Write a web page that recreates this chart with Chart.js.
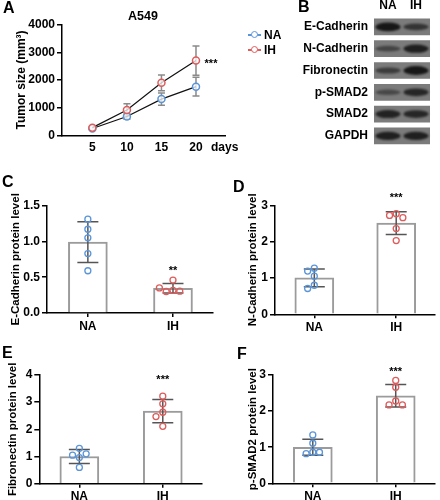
<!DOCTYPE html>
<html>
<head>
<meta charset="utf-8">
<script src="https://cdn.jsdelivr.net/npm/chart.js@4.4.1/dist/chart.umd.min.js"></script>
<style>
  body { margin: 0; width: 440px; height: 500px; position: relative; background: #fff; overflow: hidden;
         font-family: 'Liberation Sans', Arial, Helvetica, sans-serif; }
  .box { position: absolute; }
  .lbl { position: absolute; font-weight: bold; color: #000; line-height: 1; white-space: nowrap; }
  .letter { font-size: 16px; }
  .leg { position: absolute; height: 12px; font-size: 12px; font-weight: bold; line-height: 12px; }
  .leg i { position: absolute; left: 0; top: 5px; width: 13px; height: 1.5px; }
  .leg b { position: absolute; left: 3px; top: 2px; width: 5px; height: 5px; border-radius: 50%; border: 1.3px solid; background: #fff; }
  .leg span { position: absolute; left: 16px; top: 0; }
</style>
</head>
<body>
<div class="box" style="left:0;top:0;width:300px;height:165px"><canvas id="chartA"></canvas></div>
<div class="box" style="left:300px;top:0;width:140px;height:160px"><canvas id="chartB"></canvas></div>
<div class="box" style="left:0;top:170px;width:220px;height:165px"><canvas id="chartC"></canvas></div>
<div class="box" style="left:220px;top:170px;width:220px;height:165px"><canvas id="chartD"></canvas></div>
<div class="box" style="left:0;top:335px;width:220px;height:165px"><canvas id="chartE"></canvas></div>
<div class="box" style="left:220px;top:335px;width:220px;height:165px"><canvas id="chartF"></canvas></div>

<div class="lbl letter" style="left:3px;top:0px">A</div>
<div class="lbl letter" style="left:298px;top:-1px">B</div>
<div class="lbl letter" style="left:2px;top:174px">C</div>
<div class="lbl letter" style="left:233px;top:179px">D</div>
<div class="lbl letter" style="left:2px;top:345px">E</div>
<div class="lbl letter" style="left:237px;top:346px">F</div>
<div class="lbl" style="left:128px;top:10px;font-size:12.5px">A549</div>
<div class="lbl" style="left:211px;top:141px;font-size:12px">days</div>
<div class="leg" style="left:248px;top:29px"><i style="background:#5b95d9"></i><b style="border-color:#5b95d9"></b><span>NA</span></div>
<div class="leg" style="left:248px;top:44px"><i style="background:#dd5c5c"></i><b style="border-color:#dd5c5c"></b><span>IH</span></div>

<script>
// ---- data ----
const days = [5, 10, 15, 20];
const tumorNA = [250, 680, 1310, 1760];
const tumorNAsd = [45, 100, 220, 340];
const tumorIH = [280, 920, 1900, 2700];
const tumorIHsd = [45, 220, 285, 530];

const groups = ['NA', 'IH'];
const ecadNA = [1.31, 1.17, 1.05, 0.83, 0.59];
const ecadIH = [0.46, 0.315, 0.30, 0.305, 0.35];
const ncadNA = [1.27, 1.19, 1.05, 0.80, 0.71];
const ncadIH = [2.77, 2.72, 2.66, 2.36, 2.03];
const fibNA = [1.30, 1.05, 1.10, 0.96, 0.60];
const fibIH = [3.22, 2.94, 2.63, 2.47, 2.11];
const psmadNA = [1.34, 1.11, 0.86, 0.82, 0.86];
const psmadIH = [2.85, 2.66, 2.28, 2.17, 2.17];
const sigText = ['**', '***', '***', '***'];

const proteins = ['E-Cadherin', 'N-Cadherin', 'Fibronectin', 'p-SMAD2', 'SMAD2', 'GAPDH'];
const bandNA = [1.0, 0.4, 0.5, 0.35, 0.85, 0.9];
const bandIH = [0.6, 0.9, 1.0, 0.8, 0.8, 0.9];

// ---- styling ----
const BLUE = '#5b95d9', RED = '#dd5c5c';
Chart.defaults.font.family = "'Liberation Sans', Arial, Helvetica, sans-serif";
Chart.defaults.font.weight = 'bold';
Chart.defaults.font.size = 12;
Chart.defaults.color = '#000';
Chart.defaults.animation = false;
Chart.defaults.plugins.legend.display = false;
Chart.defaults.plugins.tooltip.enabled = false;

const mean = a => a.reduce((s, v) => s + v, 0) / a.length;
const sd = a => { const m = mean(a); return Math.sqrt(a.reduce((s, v) => s + (v - m) ** 2, 0) / (a.length - 1)); };

// spread points that would overlap (simple beeswarm, in pixels)
function swarm(vals, pxY, pxX, r) {
  const placed = [];
  return vals.map(v => {
    const y = v * pxY;
    for (let k = 0; k < 20; k++) {
      const dx = k === 0 ? 0 : Math.ceil(k / 2) * (k % 2 ? -1 : 1) * 2 * r;
      if (placed.every(p => Math.hypot(p.x - dx, p.y - y) >= 2 * r)) {
        placed.push({ x: dx, y });
        return dx / pxX;
      }
    }
    return 0;
  });
}

function stars(ctx, text, x, y) {
  ctx.save();
  ctx.fillStyle = '#000';
  ctx.font = "bold 11px 'Liberation Sans', Arial, sans-serif";
  ctx.textAlign = 'center';
  ctx.textBaseline = 'middle';
  ctx.fillText(text, x, y + 3);
  ctx.restore();
}

// ---- A: tumor growth ----
const errA = {
  id: 'errA',
  beforeDatasetsDraw(chart) {
    const { ctx, scales: { x, y } } = chart;
    ctx.save();
    ctx.strokeStyle = '#8a8a8a';
    ctx.lineWidth = 1.5;
    [[tumorNA, tumorNAsd], [tumorIH, tumorIHsd]].forEach(([m, s]) => {
      days.forEach((d, i) => {
        const px = x.getPixelForValue(d);
        const t = y.getPixelForValue(m[i] + s[i]), b = y.getPixelForValue(m[i] - s[i]);
        ctx.beginPath();
        ctx.moveTo(px, t); ctx.lineTo(px, b);
        ctx.moveTo(px - 3.5, t); ctx.lineTo(px + 3.5, t);
        ctx.moveTo(px - 3.5, b); ctx.lineTo(px + 3.5, b);
        ctx.stroke();
      });
    });
    ctx.restore();
  },
  afterDatasetsDraw(chart) {
    const { ctx, scales: { x, y } } = chart;
    stars(ctx, '***', x.getPixelForValue(days[3]) + 15, y.getPixelForValue(tumorIH[3]));
  }
};

const lineSet = (label, vals, color) => ({
  label,
  data: days.map((d, i) => ({ x: d, y: vals[i] })),
  borderColor: '#111',
  borderWidth: 1.2,
  pointRadius: 3.5,
  pointBorderWidth: 1.5,
  pointBorderColor: color,
  pointBackgroundColor: 'rgba(255,255,255,0.75)'
});

new Chart(document.getElementById('chartA'), {
  type: 'line',
  data: { datasets: [lineSet('IH', tumorIH, RED), lineSet('NA', tumorNA, BLUE)] },
  options: {
    responsive: true,
    maintainAspectRatio: false,
    layout: { padding: { top: 24.6, right: 75, bottom: 0, left: 0 } },
    scales: {
      x: {
        type: 'linear', min: 0.6, max: 24.2,
        afterBuildTicks: s => { s.ticks = days.map(v => ({ value: v })); },
        afterFit: s => { s.height = 29.6; },
        grid: { display: false, drawTicks: false },
        border: { color: '#000', width: 1.5 },
        ticks: { padding: 5, callback: v => String(v) }
      },
      y: {
        min: 0, max: 4000,
        ticks: { stepSize: 1000, padding: 2, callback: v => String(v) },
        afterFit: s => { s.width = 62; },
        grid: { drawOnChartArea: false, color: '#000', lineWidth: 1.5, tickLength: 5 },
        border: { color: '#000', width: 1.5 },
        title: { display: true, text: 'Tumor size (mm³)', font: { size: 12, weight: 'bold' }, padding: { top: 14, bottom: 0 } }
      }
    }
  },
  plugins: [errA]
});

// ---- B: western blot ----
const bands = {
  id: 'bands',
  afterDatasetsDraw(chart) {
    const { ctx, scales: { x, y } } = chart;
    ctx.save();
    proteins.forEach((p, i) => {
      [bandNA[i], bandIH[i]].forEach((v, j) => {
        const cx = x.getPixelForValue(j), cy = y.getPixelForValue(i);
        ctx.filter = 'blur(1.3px)';
        ctx.fillStyle = `rgba(18,18,18,${0.25 + 0.7 * v})`;
        ctx.beginPath();
        ctx.ellipse(cx, cy, 12.5, 1.8 + 2.6 * v, 0, 0, Math.PI * 2);
        ctx.fill();
      });
    });
    ctx.restore();
  }
};

new Chart(document.getElementById('chartB'), {
  type: 'bar',
  data: {
    labels: proteins,
    datasets: [{ data: proteins.map(() => [-0.5, 1.5]), backgroundColor: '#7b7b7b', borderWidth: 0, barThickness: 16 }]
  },
  options: {
    indexAxis: 'y',
    responsive: true,
    maintainAspectRatio: false,
    layout: { padding: { top: 0, right: 10, bottom: 10.4, left: 0 } },
    scales: {
      x: {
        type: 'linear', position: 'top', min: -0.5, max: 1.5, offset: false,
        afterBuildTicks: s => { s.ticks = groups.map((g, i) => ({ value: i })); },
        afterFit: s => { s.height = 16; },
        ticks: { callback: v => groups[v], padding: 3 },
        grid: { display: false, drawTicks: false },
        border: { display: false }
      },
      y: {
        afterFit: s => { s.width = 74; },
        ticks: { padding: 6 },
        grid: { display: false, drawTicks: false },
        border: { display: false }
      }
    }
  },
  plugins: [bands]
});

// ---- C-F: protein levels ----
const panels = [
  { id: 'chartC', na: ecadNA, ih: ecadIH, yMax: 1.5, step: 0.5, dec: 1, title: 'E-Cadherin protein level',
    sig: sigText[0], sigY: 0.63, box: [0, 170], area: [47, 205.6, 213, 313], titlePad: 8.6 },
  { id: 'chartD', na: ncadNA, ih: ncadIH, yMax: 3, step: 1, dec: 0, title: 'N-Cadherin protein level',
    sig: sigText[1], sigY: 3.29, box: [220, 170], area: [275, 205.3, 438, 314.3], titlePad: 26 },
  { id: 'chartE', na: fibNA, ih: fibIH, yMax: 4, step: 1, dec: 0, title: 'Fibronectin protein level',
    sig: sigText[2], sigY: 3.93, box: [0, 335], area: [39.3, 375, 202, 483.7], titlePad: 6 },
  { id: 'chartF', na: psmadNA, ih: psmadIH, yMax: 3, step: 1, dec: 0, title: 'p-SMAD2 protein level',
    sig: sigText[3], sigY: 3.18, box: [220, 335], area: [273, 375, 438, 483.3], titlePad: 26 }
];

const X_MIN = -0.48, X_MAX = 1.47;

panels.forEach(p => {
  const [cl, ct] = p.box;
  const [left, top, right, bottom] = p.area;
  const pxX = (right - left) / (X_MAX - X_MIN);
  const pxY = (bottom - top) / p.yMax;
  const sets = [p.na, p.ih];
  const pts = sets.map((vals, g) => {
    const off = swarm(vals, pxY, pxX, 3.4);
    return vals.map((v, k) => ({ x: g + off[k], y: v }));
  });

  const errBars = {
    id: 'err' + p.id,
    afterDatasetDraw(chart, args) {
      if (args.index !== 2) return;
      const { ctx, scales: { x, y } } = chart;
      ctx.save();
      ctx.strokeStyle = '#555';
      ctx.lineWidth = 1.5;
      sets.forEach((vals, g) => {
        const m = mean(vals), s = sd(vals);
        const px = x.getPixelForValue(g);
        const t = y.getPixelForValue(m + s), b = y.getPixelForValue(m - s);
        ctx.beginPath();
        ctx.moveTo(px, t); ctx.lineTo(px, b);
        ctx.moveTo(px - 10.5, t); ctx.lineTo(px + 10.5, t);
        ctx.moveTo(px - 10.5, b); ctx.lineTo(px + 10.5, b);
        ctx.stroke();
      });
      ctx.restore();
    },
    afterDraw(chart) {
      const { ctx, scales: { x, y } } = chart;
      stars(ctx, p.sig, x.getPixelForValue(1), y.getPixelForValue(p.sigY));
    }
  };

  const dots = (data, color) => ({
    type: 'scatter', data, pointRadius: 3, pointBorderWidth: 1.3,
    pointBorderColor: color, pointBackgroundColor: 'rgba(255,255,255,0)'
  });

  new Chart(document.getElementById(p.id), {
    type: 'bar',
    data: {
      datasets: [
        dots(pts[0], BLUE),
        dots(pts[1], RED),
        { type: 'bar', data: sets.map((v, g) => ({ x: g, y: mean(v) })), backgroundColor: '#fff',
          borderColor: '#9b9b9b', borderWidth: 2, barThickness: 39 }
      ]
    },
    options: {
      responsive: true,
      maintainAspectRatio: false,
      layout: { padding: { top: top - ct, right: cl + 220 - right, bottom: 0, left: 0 } },
      scales: {
        x: {
          type: 'linear', min: X_MIN, max: X_MAX, offset: false,
          afterBuildTicks: s => { s.ticks = groups.map((g, i) => ({ value: i })); },
          afterFit: s => { s.height = ct + 165 - bottom; },
          ticks: { callback: v => groups[v], padding: 2 },
          grid: { offset: false, drawOnChartArea: false, color: '#000', lineWidth: 1.5, tickLength: 4 },
          border: { color: '#000', width: 1.5 }
        },
        y: {
          min: 0, max: p.yMax,
          afterFit: s => { s.width = left - cl; },
          ticks: { stepSize: p.step, padding: 2, callback: v => v.toFixed(p.dec) },
          grid: { drawOnChartArea: false, color: '#000', lineWidth: 1.5, tickLength: 5 },
          border: { color: '#000', width: 1.5 },
          title: { display: true, text: p.title, font: { size: 11.5, weight: 'bold' }, padding: { top: p.titlePad, bottom: 0 } }
        }
      }
    },
    plugins: [errBars]
  });
});
</script>
</body>
</html>
